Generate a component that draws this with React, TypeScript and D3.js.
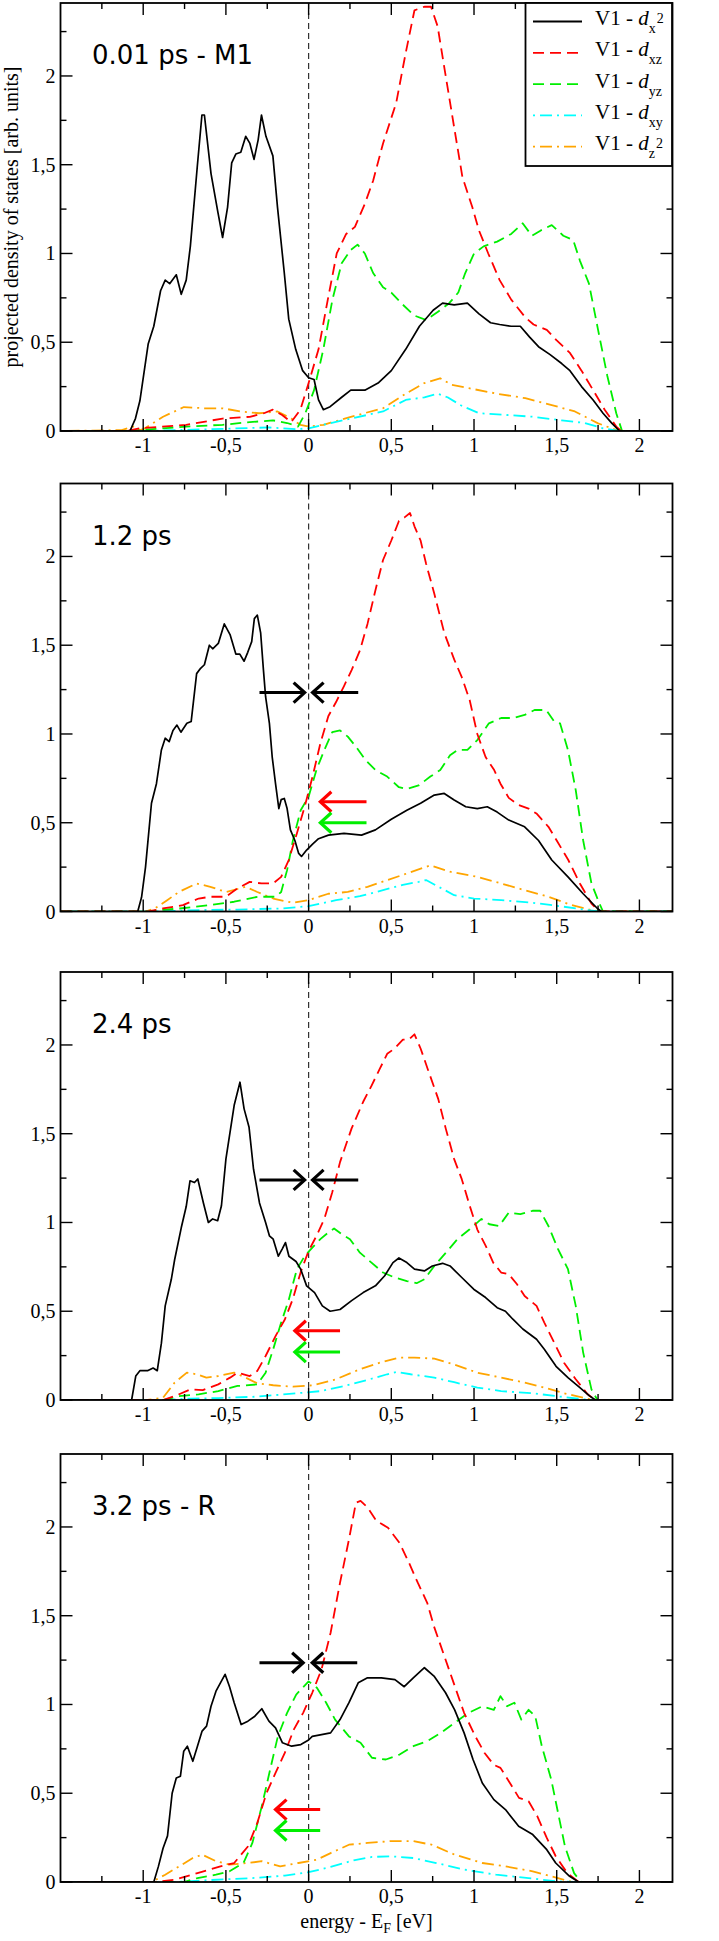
import React, { useEffect, useRef } from 'react';
import * as d3 from 'd3';

type Pt = [number, number];

// panel titles (simulation time)
const panelLabels = ['0.01 ps - M1', '1.2 ps', '2.4 ps', '3.2 ps - R'];

// legend: V1 - d_{sub}^{sup}
const orbitalSub = ['x', 'xz', 'yz', 'xy', 'z'];
const orbitalSup = ['2', '', '', '', '2'];

const xMajor = [-1, -0.5, 0, 0.5, 1, 1.5, 2];
const xMinor = [-1.25, -0.75, -0.25, 0.25, 0.75, 1.25, 1.75];
const yMajor = [0, 0.5, 1, 1.5, 2];
const yMinor = [0.25, 0.75, 1.25, 1.75, 2.25];

// ---- 0.01 ps ----
const p1X2: Pt[] = [[-1.5,0],[-1.08,0],[-1.047,0.07],[-1.02,0.17],[-0.97,0.49],[-0.936,0.59],[-0.895,0.79],[-0.867,0.85],[-0.84,0.83],[-0.8,0.88],[-0.77,0.77],[-0.74,0.85],[-0.715,1.04],[-0.673,1.49],[-0.645,1.78],[-0.63,1.78],[-0.59,1.45],[-0.548,1.23],[-0.52,1.09],[-0.49,1.26],[-0.465,1.51],[-0.44,1.56],[-0.41,1.57],[-0.38,1.66],[-0.355,1.62],[-0.33,1.53],[-0.305,1.64],[-0.285,1.78],[-0.258,1.66],[-0.216,1.55],[-0.188,1.26],[-0.147,0.89],[-0.12,0.63],[-0.078,0.46],[-0.036,0.34],[0,0.3],[0.033,0.29],[0.06,0.175],[0.089,0.12],[0.13,0.137],[0.2,0.19],[0.255,0.23],[0.34,0.23],[0.42,0.27],[0.5,0.34],[0.587,0.46],[0.67,0.59],[0.753,0.68],[0.81,0.72],[0.88,0.71],[0.96,0.72],[1.03,0.66],[1.1,0.61],[1.155,0.6],[1.225,0.59],[1.28,0.59],[1.335,0.53],[1.39,0.475],[1.46,0.43],[1.53,0.38],[1.58,0.34],[1.65,0.25],[1.72,0.175],[1.78,0.1],[1.834,0.043],[1.88,0],[2.2,0]];
const p1Xz: Pt[] = [[-1.5,0],[-1.1,0],[-1.02,0.015],[-0.74,0.035],[-0.52,0.07],[-0.355,0.08],[-0.27,0.1],[-0.216,0.12],[-0.16,0.09],[-0.105,0.05],[-0.05,0.12],[0,0.27],[0.06,0.46],[0.116,0.74],[0.17,1.0],[0.227,1.11],[0.28,1.15],[0.34,1.28],[0.39,1.41],[0.45,1.62],[0.53,1.85],[0.587,2.13],[0.64,2.37],[0.7,2.39],[0.74,2.39],[0.78,2.28],[0.82,2.05],[0.88,1.71],[0.93,1.43],[0.99,1.26],[1.03,1.13],[1.086,1.0],[1.155,0.85],[1.225,0.74],[1.31,0.64],[1.36,0.6],[1.44,0.57],[1.5,0.51],[1.58,0.44],[1.65,0.34],[1.72,0.23],[1.79,0.12],[1.86,0.025],[1.89,0],[2.2,0]];
const p1Yz: Pt[] = [[-1.5,0],[-1.1,0],[-1.02,0.005],[-0.74,0.025],[-0.52,0.035],[-0.355,0.05],[-0.216,0.06],[-0.13,0.045],[-0.064,0.025],[-0.02,0.1],[0.033,0.23],[0.089,0.46],[0.144,0.74],[0.2,0.945],[0.255,1.02],[0.296,1.05],[0.34,1.0],[0.39,0.89],[0.45,0.81],[0.5,0.78],[0.56,0.72],[0.64,0.65],[0.71,0.625],[0.78,0.67],[0.85,0.72],[0.905,0.78],[0.947,0.89],[1.0,1.0],[1.058,1.04],[1.14,1.067],[1.225,1.11],[1.294,1.17],[1.35,1.1],[1.404,1.13],[1.47,1.16],[1.54,1.1],[1.6,1.075],[1.64,0.96],[1.695,0.83],[1.75,0.57],[1.806,0.31],[1.86,0.1],[1.895,0],[2.2,0]];
const p1Xy: Pt[] = [[-1.5,0],[-1.02,0],[-0.6,0.01],[-0.24,0.02],[-0.08,0.01],[0,0.015],[0.09,0.035],[0.255,0.07],[0.45,0.11],[0.587,0.175],[0.7,0.19],[0.78,0.21],[0.84,0.19],[0.92,0.145],[1.03,0.1],[1.2,0.09],[1.36,0.08],[1.53,0.06],[1.67,0.045],[1.78,0.015],[1.875,0],[2.2,0]];
const p1Z2: Pt[] = [[-1.5,0],[-1.13,0.005],[-1.06,0.025],[-1.02,0.005],[-1.0,0.01],[-0.88,0.08],[-0.754,0.135],[-0.63,0.128],[-0.52,0.128],[-0.41,0.11],[-0.3,0.1],[-0.188,0.11],[-0.105,0.07],[-0.05,0.035],[0,0.025],[0.09,0.035],[0.255,0.08],[0.45,0.128],[0.587,0.21],[0.7,0.27],[0.795,0.297],[0.864,0.26],[0.975,0.24],[1.14,0.21],[1.31,0.185],[1.47,0.146],[1.61,0.11],[1.75,0.043],[1.86,0.005],[1.9,0],[2.2,0]];

// ---- 1.2 ps ----
const p2X2: Pt[] = [[-1.5,0],[-1.033,0],[-1.01,0.08],[-0.986,0.25],[-0.95,0.61],[-0.92,0.72],[-0.89,0.91],[-0.867,0.976],[-0.843,0.957],[-0.82,1.02],[-0.796,1.05],[-0.772,1.01],[-0.736,1.06],[-0.71,1.07],[-0.677,1.34],[-0.653,1.37],[-0.63,1.39],[-0.6,1.5],[-0.58,1.48],[-0.546,1.51],[-0.51,1.62],[-0.475,1.56],[-0.44,1.45],[-0.416,1.45],[-0.39,1.41],[-0.368,1.46],[-0.344,1.52],[-0.328,1.65],[-0.31,1.67],[-0.29,1.57],[-0.273,1.36],[-0.26,1.21],[-0.237,1.06],[-0.22,0.87],[-0.2,0.72],[-0.18,0.58],[-0.166,0.63],[-0.147,0.637],[-0.13,0.58],[-0.11,0.46],[-0.083,0.4],[-0.06,0.327],[-0.043,0.31],[-0.012,0.346],[0.024,0.38],[0.06,0.41],[0.12,0.43],[0.214,0.44],[0.32,0.43],[0.404,0.46],[0.5,0.52],[0.594,0.57],[0.677,0.61],[0.76,0.656],[0.82,0.665],[0.88,0.628],[0.95,0.59],[1.02,0.58],[1.08,0.59],[1.14,0.56],[1.21,0.515],[1.306,0.477],[1.39,0.4],[1.47,0.29],[1.568,0.195],[1.66,0.1],[1.746,0.017],[1.77,0],[2.2,0]];
const p2Xz: Pt[] = [[-1.5,0],[-0.97,0],[-0.88,0.017],[-0.76,0.036],[-0.665,0.073],[-0.594,0.083],[-0.5,0.083],[-0.43,0.13],[-0.356,0.167],[-0.285,0.158],[-0.214,0.158],[-0.166,0.195],[-0.12,0.29],[-0.071,0.44],[-0.024,0.59],[0.024,0.76],[0.071,0.947],[0.119,1.1],[0.166,1.18],[0.214,1.27],[0.26,1.36],[0.31,1.47],[0.356,1.62],[0.404,1.81],[0.45,1.98],[0.5,2.09],[0.546,2.2],[0.58,2.22],[0.613,2.245],[0.64,2.17],[0.677,2.09],[0.71,1.96],[0.76,1.79],[0.82,1.57],[0.88,1.42],[0.926,1.32],[0.974,1.19],[1.02,1.0],[1.07,0.87],[1.12,0.8],[1.16,0.72],[1.21,0.64],[1.27,0.6],[1.33,0.58],[1.38,0.55],[1.45,0.477],[1.5,0.4],[1.57,0.29],[1.64,0.158],[1.71,0.045],[1.758,0],[2.2,0]];
const p2Yz: Pt[] = [[-1.5,0],[-0.95,0],[-0.93,0.005],[-0.78,0.017],[-0.594,0.036],[-0.45,0.055],[-0.31,0.083],[-0.2,0.083],[-0.166,0.11],[-0.13,0.233],[-0.095,0.4],[-0.048,0.57],[0,0.647],[0.048,0.8],[0.095,0.91],[0.143,1.01],[0.19,1.02],[0.237,0.985],[0.285,0.93],[0.344,0.853],[0.404,0.797],[0.475,0.76],[0.546,0.7],[0.594,0.69],[0.665,0.71],[0.736,0.76],[0.796,0.797],[0.855,0.88],[0.9,0.91],[0.96,0.91],[1.02,0.966],[1.09,1.06],[1.164,1.09],[1.235,1.09],[1.306,1.107],[1.366,1.135],[1.437,1.135],[1.485,1.07],[1.52,1.06],[1.568,0.91],[1.615,0.684],[1.66,0.4],[1.71,0.158],[1.758,0.045],[1.78,0],[2.2,0]];
const p2Xy: Pt[] = [[-1.5,0],[-0.93,0],[-0.665,0.008],[-0.43,0.011],[-0.166,0.017],[0,0.03],[0.166,0.064],[0.31,0.086],[0.45,0.12],[0.57,0.15],[0.665,0.167],[0.71,0.177],[0.784,0.14],[0.88,0.092],[1.0,0.073],[1.164,0.064],[1.354,0.049],[1.52,0.03],[1.66,0.011],[1.758,0],[2.2,0]];
const p2Z2: Pt[] = [[-1.5,0],[-0.986,0],[-0.93,0.017],[-0.855,0.064],[-0.784,0.11],[-0.677,0.158],[-0.594,0.139],[-0.5,0.11],[-0.38,0.139],[-0.31,0.11],[-0.214,0.073],[-0.095,0.049],[0,0.064],[0.119,0.1],[0.237,0.11],[0.356,0.139],[0.475,0.177],[0.594,0.214],[0.736,0.26],[0.855,0.224],[1.02,0.195],[1.164,0.158],[1.306,0.12],[1.45,0.083],[1.59,0.036],[1.71,0.008],[1.76,0],[2.2,0]];

// ---- 2.4 ps ----
const p3X2: Pt[] = [[-1.5,0],[-1.07,0],[-1.045,0.135],[-1.02,0.165],[-0.974,0.165],[-0.94,0.18],[-0.915,0.165],[-0.89,0.32],[-0.867,0.53],[-0.83,0.68],[-0.81,0.79],[-0.77,0.97],[-0.74,1.09],[-0.717,1.235],[-0.69,1.225],[-0.67,1.245],[-0.636,1.11],[-0.606,1.0],[-0.58,1.02],[-0.55,1.01],[-0.527,1.094],[-0.5,1.357],[-0.45,1.66],[-0.415,1.79],[-0.39,1.64],[-0.36,1.536],[-0.333,1.3],[-0.297,1.11],[-0.26,1.0],[-0.237,0.925],[-0.214,0.906],[-0.183,0.81],[-0.16,0.85],[-0.14,0.887],[-0.119,0.81],[-0.076,0.78],[-0.048,0.737],[-0.012,0.643],[0.036,0.605],[0.083,0.53],[0.13,0.5],[0.19,0.51],[0.26,0.56],[0.33,0.605],[0.404,0.643],[0.46,0.7],[0.51,0.774],[0.546,0.8],[0.594,0.774],[0.64,0.737],[0.7,0.727],[0.748,0.755],[0.81,0.77],[0.855,0.755],[0.926,0.69],[0.998,0.624],[1.07,0.577],[1.14,0.52],[1.19,0.5],[1.235,0.455],[1.295,0.4],[1.378,0.342],[1.425,0.286],[1.496,0.19],[1.568,0.126],[1.64,0.07],[1.698,0.023],[1.734,0],[2.2,0]];
const p3Xz: Pt[] = [[-1.5,0],[-0.88,0],[-0.81,0.022],[-0.713,0.06],[-0.64,0.056],[-0.546,0.088],[-0.475,0.126],[-0.43,0.154],[-0.356,0.135],[-0.31,0.164],[-0.26,0.248],[-0.2,0.36],[-0.143,0.455],[-0.095,0.57],[-0.048,0.72],[0,0.84],[0.048,0.925],[0.095,1.02],[0.143,1.17],[0.19,1.34],[0.26,1.53],[0.33,1.68],[0.38,1.77],[0.43,1.865],[0.475,1.95],[0.52,1.98],[0.57,2.03],[0.606,2.03],[0.64,2.06],[0.677,1.98],[0.72,1.865],[0.784,1.695],[0.83,1.526],[0.88,1.357],[0.926,1.244],[0.974,1.094],[1.02,0.96],[1.07,0.87],[1.116,0.774],[1.164,0.718],[1.21,0.709],[1.26,0.652],[1.306,0.586],[1.378,0.53],[1.425,0.436],[1.485,0.323],[1.544,0.21],[1.615,0.117],[1.687,0.032],[1.734,0],[2.2,0]];
const p3Yz: Pt[] = [[-1.5,0],[-0.88,0],[-0.784,0.022],[-0.665,0.032],[-0.546,0.05],[-0.43,0.079],[-0.31,0.088],[-0.26,0.154],[-0.214,0.286],[-0.166,0.436],[-0.119,0.568],[-0.071,0.737],[-0.024,0.81],[0.024,0.86],[0.071,0.906],[0.119,0.944],[0.154,0.966],[0.2,0.934],[0.25,0.906],[0.31,0.83],[0.38,0.774],[0.45,0.718],[0.52,0.69],[0.594,0.67],[0.653,0.658],[0.7,0.68],[0.76,0.755],[0.83,0.83],[0.9,0.906],[0.974,0.962],[1.045,1.02],[1.093,0.99],[1.152,0.98],[1.21,1.056],[1.28,1.047],[1.354,1.066],[1.4,1.066],[1.45,0.98],[1.508,0.85],[1.568,0.737],[1.615,0.53],[1.66,0.267],[1.71,0.06],[1.746,0],[2.2,0]];
const p3Xy: Pt[] = [[-1.5,0],[-0.88,0],[-0.713,0.008],[-0.546,0.011],[-0.31,0.019],[-0.07,0.038],[0.071,0.05],[0.214,0.079],[0.356,0.113],[0.475,0.145],[0.534,0.158],[0.617,0.145],[0.76,0.126],[0.88,0.1],[1.02,0.07],[1.164,0.05],[1.354,0.038],[1.496,0.022],[1.66,0.004],[1.734,0],[2.2,0]];
const p3Z2: Pt[] = [[-1.5,0],[-0.974,0],[-0.88,0.013],[-0.81,0.098],[-0.736,0.154],[-0.677,0.145],[-0.618,0.126],[-0.546,0.135],[-0.45,0.154],[-0.38,0.126],[-0.31,0.094],[-0.214,0.083],[-0.095,0.075],[0.024,0.083],[0.166,0.117],[0.31,0.173],[0.43,0.21],[0.546,0.239],[0.64,0.239],[0.76,0.233],[0.88,0.2],[1.02,0.154],[1.164,0.126],[1.306,0.098],[1.425,0.07],[1.544,0.038],[1.66,0.013],[1.72,0],[2.2,0]];

// ---- 3.2 ps ----
const p4X2: Pt[] = [[-1.5,0],[-0.936,0],[-0.908,0.088],[-0.88,0.19],[-0.853,0.26],[-0.825,0.5],[-0.8,0.586],[-0.775,0.596],[-0.755,0.737],[-0.733,0.765],[-0.7,0.68],[-0.672,0.765],[-0.644,0.85],[-0.617,0.878],[-0.59,0.99],[-0.56,1.075],[-0.533,1.122],[-0.505,1.17],[-0.478,1.1],[-0.45,1.01],[-0.408,0.887],[-0.367,0.906],[-0.325,0.934],[-0.283,0.976],[-0.24,0.906],[-0.2,0.868],[-0.158,0.784],[-0.103,0.765],[-0.047,0.774],[0,0.8],[0.022,0.82],[0.078,0.83],[0.133,0.84],[0.19,0.915],[0.244,1.01],[0.3,1.122],[0.356,1.15],[0.44,1.15],[0.522,1.14],[0.578,1.1],[0.633,1.15],[0.7,1.207],[0.758,1.16],[0.828,1.066],[0.883,0.97],[0.94,0.84],[0.994,0.69],[1.05,0.558],[1.12,0.464],[1.19,0.408],[1.27,0.314],[1.355,0.267],[1.44,0.182],[1.494,0.107],[1.578,0.032],[1.633,0],[2.2,0]];
const p4Xz: Pt[] = [[-1.5,0],[-0.92,0],[-0.81,0.013],[-0.672,0.05],[-0.533,0.088],[-0.45,0.107],[-0.367,0.2],[-0.31,0.333],[-0.255,0.5],[-0.2,0.615],[-0.144,0.727],[-0.089,0.86],[-0.033,0.953],[0.022,1.066],[0.078,1.197],[0.133,1.404],[0.19,1.686],[0.244,1.93],[0.286,2.137],[0.314,2.147],[0.356,2.11],[0.41,2.034],[0.48,1.996],[0.55,1.91],[0.606,1.8],[0.66,1.686],[0.717,1.573],[0.758,1.44],[0.814,1.29],[0.87,1.14],[0.94,0.953],[1.008,0.82],[1.064,0.727],[1.12,0.66],[1.16,0.643],[1.217,0.558],[1.272,0.474],[1.33,0.455],[1.383,0.37],[1.44,0.248],[1.494,0.145],[1.564,0.05],[1.633,0],[2.2,0]];
const p4Yz: Pt[] = [[-1.5,0],[-0.755,0],[-0.672,0.022],[-0.56,0.041],[-0.478,0.06],[-0.394,0.107],[-0.34,0.22],[-0.283,0.427],[-0.228,0.652],[-0.186,0.82],[-0.13,0.953],[-0.075,1.056],[0,1.13],[0.05,1.094],[0.106,1.01],[0.16,0.915],[0.244,0.82],[0.314,0.784],[0.383,0.7],[0.467,0.69],[0.55,0.718],[0.633,0.765],[0.717,0.793],[0.8,0.84],[0.883,0.897],[0.967,0.953],[1.05,0.99],[1.12,0.97],[1.16,1.047],[1.2,0.99],[1.244,1.01],[1.286,0.915],[1.33,0.97],[1.37,0.934],[1.41,0.765],[1.467,0.577],[1.508,0.39],[1.55,0.2],[1.605,0.05],[1.647,0],[2.2,0]];
const p4Xy: Pt[] = [[-1.5,0],[-0.81,0],[-0.617,0.01],[-0.34,0.022],[-0.144,0.036],[0,0.055],[0.133,0.085],[0.272,0.122],[0.383,0.141],[0.494,0.145],[0.633,0.135],[0.772,0.107],[0.94,0.07],[1.133,0.041],[1.33,0.022],[1.494,0.004],[1.6,0],[2.2,0]];
const p4Z2: Pt[] = [[-1.5,0],[-0.95,0],[-0.867,0.041],[-0.783,0.088],[-0.7,0.135],[-0.644,0.154],[-0.56,0.117],[-0.478,0.098],[-0.367,0.107],[-0.283,0.117],[-0.172,0.088],[-0.061,0.107],[0.05,0.126],[0.133,0.163],[0.244,0.21],[0.356,0.22],[0.494,0.23],[0.633,0.23],[0.744,0.21],[0.883,0.154],[1.05,0.107],[1.19,0.088],[1.355,0.06],[1.467,0.032],[1.578,0.004],[1.62,0],[2.2,0]];

// arrows: [y, xFrom, xTo] in data units
const p2Arrows = { black: [1.233, -0.297, -0.024, 0.3, 0.024], red: [0.618, 0.35, 0.071], green: [0.5, 0.35, 0.071] };
const p3Arrows = { black: [1.24, -0.297, -0.024, 0.3, 0.024], red: [0.39, 0.19, -0.083], green: [0.27, 0.19, -0.083] };
const p4Arrows = { black: [1.235, -0.297, -0.033, 0.294, 0.022], red: [0.408, 0.07, -0.2], green: [0.29, 0.07, -0.2] };

const panelSeries = [
  [p1X2, p1Xz, p1Yz, p1Xy, p1Z2],
  [p2X2, p2Xz, p2Yz, p2Xy, p2Z2],
  [p3X2, p3Xz, p3Yz, p3Xy, p3Z2],
  [p4X2, p4Xz, p4Yz, p4Xy, p4Z2],
];
const panelArrows = [null, p2Arrows, p3Arrows, p4Arrows];

const colors = ['#000000', '#ff0000', '#00ee00', '#00ffff', '#ffa500'];
const dashes = ['', '11,6', '11,6', '2,5,12,5', '2,5,12,5'];

const W = 719;
const H = 1941;
const panelTops = [3, 483.5, 972, 1454];
const panelH = 428;

const App: React.FC = () => {
  const ref = useRef<SVGSVGElement | null>(null);

  useEffect(() => {
    if (!ref.current) return;
    const svg = d3.select(ref.current);
    svg.selectAll('*').remove();

    const x = d3.scaleLinear().domain([-1.5, 2.2]).range([60.5, 672.5]);
    const fmt = (v: number) => String(v).replace('.', ',');

    const defs = svg.append('defs');

    panelSeries.forEach((series, pi) => {
      const top = panelTops[pi];
      const y = d3.scaleLinear().domain([0, 2.411]).range([top + panelH, top]);
      const g = svg.append('g');

      defs.append('clipPath').attr('id', `clip${pi}`)
        .append('rect')
        .attr('x', x(-1.5)).attr('y', top)
        .attr('width', x(2.2) - x(-1.5)).attr('height', panelH);

      // Fermi level
      g.append('line')
        .attr('x1', x(0)).attr('x2', x(0))
        .attr('y1', top).attr('y2', top + panelH)
        .attr('stroke', '#333').attr('stroke-width', 1.2)
        .attr('stroke-dasharray', '6,4');

      const line = d3.line<Pt>().x(d => x(d[0])).y(d => y(d[1]));
      const curves = g.append('g').attr('clip-path', `url(#clip${pi})`);
      // draw small ones first, then black on top
      [4, 3, 2, 1, 0].forEach(k => {
        curves.append('path')
          .datum(series[k])
          .attr('d', line)
          .attr('fill', 'none')
          .attr('stroke', colors[k])
          .attr('stroke-width', k === 0 ? 1.7 : 1.8)
          .attr('stroke-dasharray', dashes[k] || null)
          .attr('stroke-linejoin', 'round');
      });

      // arrows
      const arr = panelArrows[pi];
      if (arr) {
        const drawArrow = (yv: number, x0: number, x1: number, col: string) => {
          const px0 = x(x0), px1 = x(x1), py = y(yv);
          const dir = px1 > px0 ? 1 : -1;
          g.append('line')
            .attr('x1', px0).attr('x2', px1).attr('y1', py).attr('y2', py)
            .attr('stroke', col).attr('stroke-width', 3);
          g.append('polyline')
            .attr('points', `${px1 - dir * 11},${py - 10} ${px1},${py} ${px1 - dir * 11},${py + 10}`)
            .attr('fill', 'none').attr('stroke', col).attr('stroke-width', 3.2)
            .attr('stroke-linejoin', 'miter');
        };
        drawArrow(arr.black[0], arr.black[1], arr.black[2], '#000');
        drawArrow(arr.black[0], arr.black[3], arr.black[4], '#000');
        drawArrow(arr.red[0], arr.red[1], arr.red[2], '#ff0000');
        drawArrow(arr.green[0], arr.green[1], arr.green[2], '#00ee00');
      }

      // frame
      g.append('rect')
        .attr('x', x(-1.5)).attr('y', top)
        .attr('width', x(2.2) - x(-1.5)).attr('height', panelH)
        .attr('fill', 'none').attr('stroke', '#000').attr('stroke-width', 1.8);

      const ticks = g.append('g').attr('stroke', '#000').attr('stroke-width', 1.4);
      const xTick = (v: number, len: number) => {
        ticks.append('line').attr('x1', x(v)).attr('x2', x(v))
          .attr('y1', top + panelH).attr('y2', top + panelH - len);
        ticks.append('line').attr('x1', x(v)).attr('x2', x(v))
          .attr('y1', top).attr('y2', top + len);
      };
      const yTick = (v: number, len: number) => {
        ticks.append('line').attr('x1', x(-1.5)).attr('x2', x(-1.5) + len)
          .attr('y1', y(v)).attr('y2', y(v));
        ticks.append('line').attr('x1', x(2.2)).attr('x2', x(2.2) - len)
          .attr('y1', y(v)).attr('y2', y(v));
      };
      xMajor.forEach(v => xTick(v, 12));
      xMinor.forEach(v => xTick(v, 6));
      yMajor.forEach(v => yTick(v, 12));
      yMinor.forEach(v => yTick(v, 6));

      g.selectAll('.xl').data(xMajor).enter().append('text')
        .attr('x', d => x(d)).attr('y', top + panelH + 21)
        .attr('text-anchor', 'middle')
        .attr('font-family', '"Liberation Serif", "Times New Roman", serif')
        .attr('font-size', 20)
        .text(d => fmt(d));

      g.selectAll('.yl').data(yMajor).enter().append('text')
        .attr('x', x(-1.5) - 5).attr('y', d => y(d) + 7)
        .attr('text-anchor', 'end')
        .attr('font-family', '"Liberation Serif", "Times New Roman", serif')
        .attr('font-size', 20)
        .text(d => fmt(d));

      g.append('text')
        .attr('x', 92).attr('y', top + 61)
        .attr('font-family', '"DejaVu Sans", sans-serif')
        .attr('font-size', 26)
        .text(panelLabels[pi]);

      if (pi === 0) {
        const lg = g.append('g');
        lg.append('rect')
          .attr('x', 525.5).attr('y', top).attr('width', 146.5).attr('height', 163)
          .attr('fill', '#fff').attr('stroke', '#000').attr('stroke-width', 1.8);
        orbitalSub.forEach((sub, i) => {
          const base = top + 22 + i * 31.3;
          lg.append('line')
            .attr('x1', 533).attr('x2', 582)
            .attr('y1', base - 3.5).attr('y2', base - 3.5)
            .attr('stroke', colors[i]).attr('stroke-width', 1.8)
            .attr('stroke-dasharray', dashes[i] || null);
          const t = lg.append('text')
            .attr('x', 595).attr('y', base)
            .attr('font-family', '"Liberation Serif", "Times New Roman", serif')
            .attr('font-size', 21);
          t.append('tspan').text('V1 - ');
          t.append('tspan').attr('font-style', 'italic').text('d');
          t.append('tspan').attr('font-size', 14).attr('dy', 8).text(sub);
          if (orbitalSup[i]) {
            t.append('tspan').attr('font-size', 14).attr('dy', -10).attr('dx', 1).text(orbitalSup[i]);
          }
        });
      }
    });

    // axis titles
    const mid0 = panelTops[0] + panelH / 2;
    svg.append('text')
      .attr('transform', `translate(18,${mid0}) rotate(-90)`)
      .attr('text-anchor', 'middle')
      .attr('font-family', '"Liberation Serif", "Times New Roman", serif')
      .attr('font-size', 20)
      .text('projected density of states [arb. units]');

    const xt = svg.append('text')
      .attr('x', (x(-1.5) + x(2.2)) / 2).attr('y', 1928)
      .attr('text-anchor', 'middle')
      .attr('font-family', '"Liberation Serif", "Times New Roman", serif')
      .attr('font-size', 20);
    xt.append('tspan').text('energy - E');
    xt.append('tspan').attr('font-size', 14).attr('dy', 5).text('F');
    xt.append('tspan').attr('dy', -5).text(' [eV]');
  }, []);

  return (
    <svg ref={ref} width={W} height={H}
      style={{ position: 'absolute', left: 0, top: 0, background: '#fff' }} />
  );
};

export default App;
